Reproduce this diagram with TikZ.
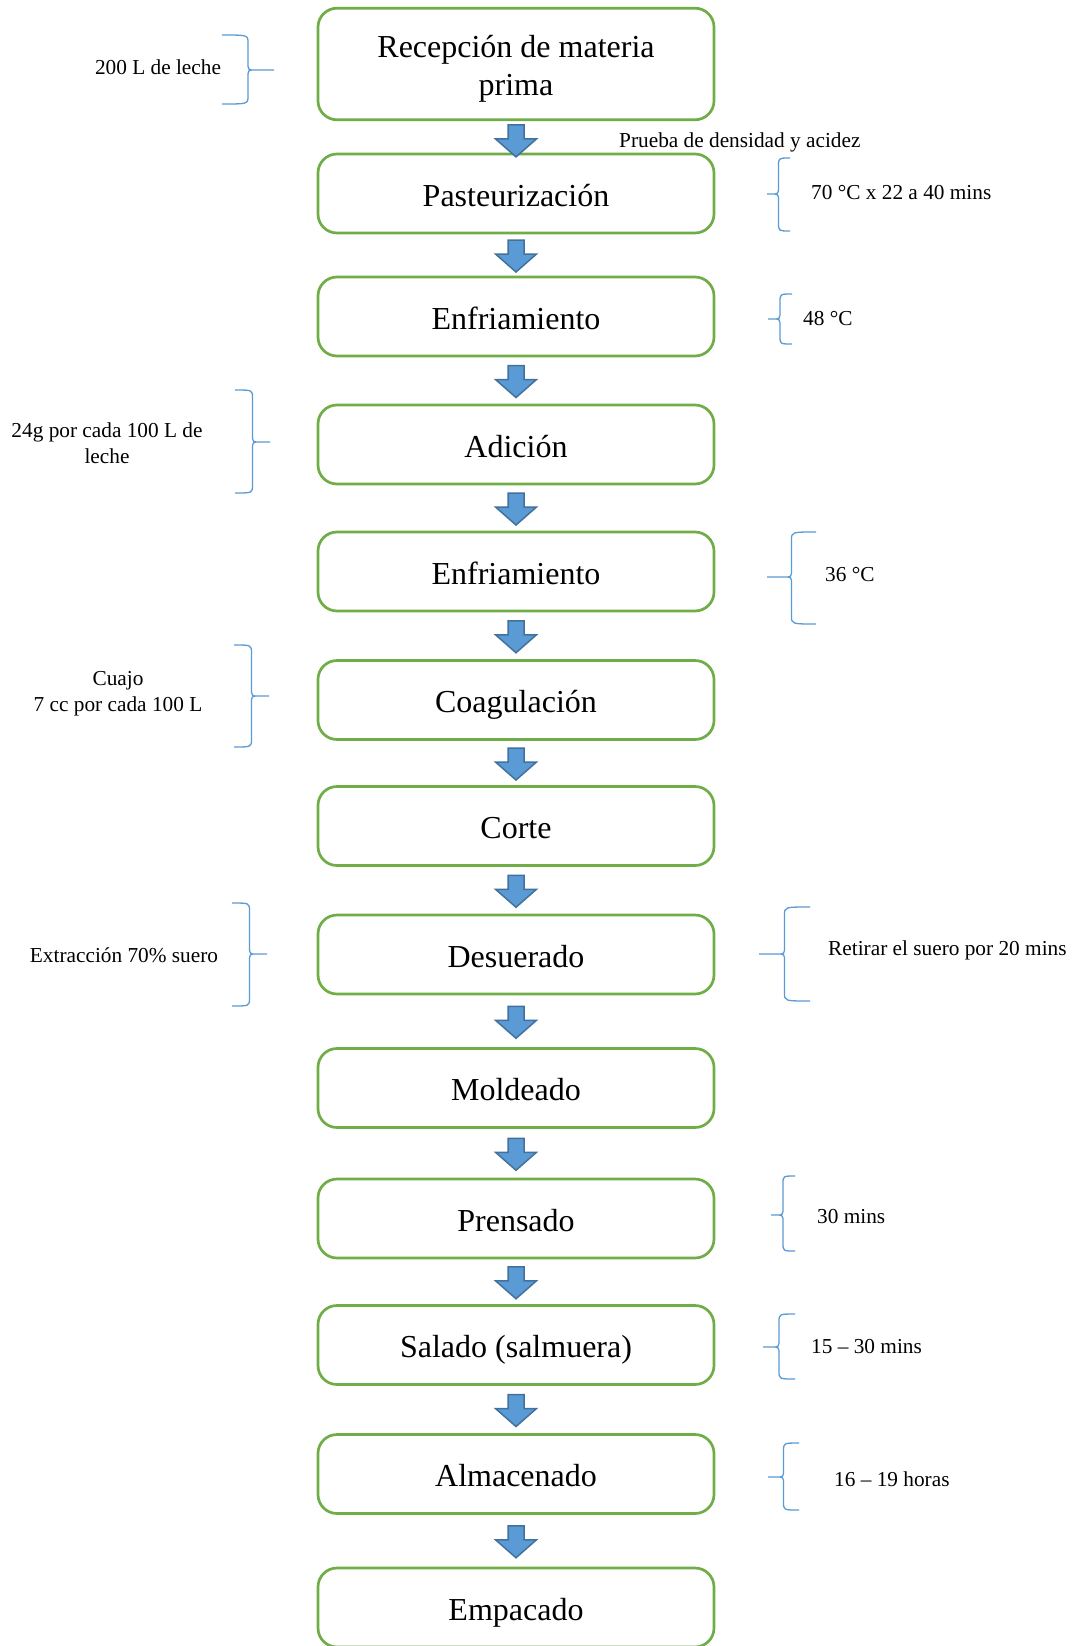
\documentclass[tikz,border=0pt]{standalone}
\usepackage{fontspec}
\setmainfont{Liberation Serif}
\usetikzlibrary{calc}
\definecolor{boxgreen}{HTML}{70AD47}
\definecolor{arrfill}{HTML}{5B9BD5}
\definecolor{arredge}{HTML}{41719C}
\definecolor{bracecol}{HTML}{5B9BD5}
\tikzset{
  boxbase/.style={draw=boxgreen, line width=2.7pt, rounded corners=19pt, minimum width=396pt, minimum height=79pt, inner sep=0pt, align=center, font=\fontsize{32}{38}\selectfont},
  stepbox/.style={boxbase, text height=32pt, text depth=7pt},
  notetext/.style={inner sep=0pt, align=center, font=\fontsize{21.3}{26}\selectfont},
  flechastyle/.style={fill=arrfill, draw=arredge, line width=1.5pt, line join=miter},
  bracestyle/.style={draw=bracecol, line width=1.3pt}
}
% brace with tip to the right: xl, xr, ytop, ybot, ytip
\newcommand\BrTipRight[5]{%
  \pgfmathsetmacro\bm{(#1+#2)/2}%
  \draw[bracestyle] (#1,#3) .. controls (\bm,#3) .. (\bm,#3+8) -- (\bm,#5-8)
     .. controls (\bm,#5) and (\bm,#5) .. (\bm+7,#5) -- (#2,#5)
     (\bm+7,#5) .. controls (\bm,#5) and (\bm,#5) .. (\bm,#5+8) -- (\bm,#4-8)
     .. controls (\bm,#4) .. (#1,#4);}
% brace with tip to the left
\newcommand\BrTipLeft[5]{%
  \pgfmathsetmacro\bm{(#1+#2)/2}%
  \draw[bracestyle] (#2,#3) .. controls (\bm,#3) .. (\bm,#3+8) -- (\bm,#5-8)
     .. controls (\bm,#5) and (\bm,#5) .. (\bm-7,#5) -- (#1,#5)
     (\bm-7,#5) .. controls (\bm,#5) and (\bm,#5) .. (\bm,#5+8) -- (\bm,#4-8)
     .. controls (\bm,#4) .. (#2,#4);}
\newcommand\Flecha[3][0]{%
  \draw[flechastyle] let \p3=($(#2.south)!0.5!(#3.north)+(0,#1)$) in
   (\x3-8pt,\y3+15pt) -- (\x3+8pt,\y3+15pt) -- (\x3+8pt,\y3+1pt) -- (\x3+20.5pt,\y3+1pt)
   -- (\x3,\y3-17pt) -- (\x3-20.5pt,\y3+1pt) -- (\x3-8pt,\y3+1pt) -- cycle;}
\begin{document}
\begin{tikzpicture}[x=1pt,y=-1pt]
\useasboundingbox (0,0) rectangle (1076,1646);
\clip (0,0) rectangle (1076,1646);
\fill[white] (0,0) rectangle (1076,1646);
% boxes
\node[boxbase, minimum height=111.6pt] (n1) at (516,64) {\rule{0pt}{32pt}Recepción de materia\\prima};
\node[stepbox] (n2) at (516,193.5) {Pasteurización};
\node[stepbox] (n3) at (516,316.5) {Enfriamiento};
\node[stepbox] (n4) at (516,444.5) {Adición};
\node[stepbox] (n5) at (516,571.5) {Enfriamiento};
\node[stepbox] (n6) at (516,700) {Coagulación};
\node[stepbox] (n7) at (516,826) {Corte};
\node[stepbox] (n8) at (516,954.5) {Desuerado};
\node[stepbox] (n9) at (516,1088) {Moldeado};
\node[stepbox] (n10) at (516,1218.5) {Prensado};
\node[stepbox] (n11) at (516,1345) {Salado (salmuera)};
\node[stepbox] (n12) at (516,1474) {Almacenado};
\node[stepbox] (n13) at (516,1607.5) {Empacado};
% arrows
\Flecha[3]{n1}{n2}
\Flecha{n2}{n3}
\Flecha{n3}{n4}
\Flecha{n4}{n5}
\Flecha{n5}{n6}
\Flecha{n6}{n7}
\Flecha{n7}{n8}
\Flecha{n8}{n9}
\Flecha{n9}{n10}
\Flecha{n10}{n11}
\Flecha{n11}{n12}
\Flecha{n12}{n13}
% notes left
\node[notetext] (t1) at (158,67) {200 L de leche};
\BrTipRight{222}{274}{35}{104}{70}
\node[notetext] (t4) at (107,443) {24g por cada 100 L de\\leche};
\BrTipRight{235}{270}{390}{493}{442}
\node[notetext] (t6) at (118,694) {Cuajo\\7 cc por cada 100 L};
\BrTipRight{234}{269}{645}{747}{696}
\node[notetext] (t7) at (124,955) {Extracción 70\% suero};
\BrTipRight{232}{267}{903}{1006}{954}
% notes right
\node[notetext, anchor=west] (tp) at (619,142) {Prueba de densidad y acidez};
\node[notetext, anchor=west] (t2) at (811,193) {70 °C x 22 a 40 mins};
\BrTipLeft{767}{790}{158}{231}{194}
\node[notetext, anchor=west] (t3) at (803,319) {48 °C};
\BrTipLeft{768}{792}{294}{344}{319}
\node[notetext, anchor=west] (t5) at (825,575) {36 °C};
\BrTipLeft{767}{816}{532}{624}{577}
\node[notetext, anchor=west] (t8) at (828,950) {Retirar el suero por 20 mins};
\BrTipLeft{759}{810}{907}{1001}{954}
\node[notetext, anchor=west] (t9) at (817,1217) {30 mins};
\BrTipLeft{771}{795}{1176}{1251}{1215}
\node[notetext, anchor=west] (t10) at (811,1347) {15 -- 30 mins};
\BrTipLeft{763}{795}{1314}{1379}{1347}
\node[notetext, anchor=west] (t11) at (834,1479) {16 -- 19 horas};
\BrTipLeft{768}{799}{1443}{1510}{1477}
\end{tikzpicture}
\end{document}
